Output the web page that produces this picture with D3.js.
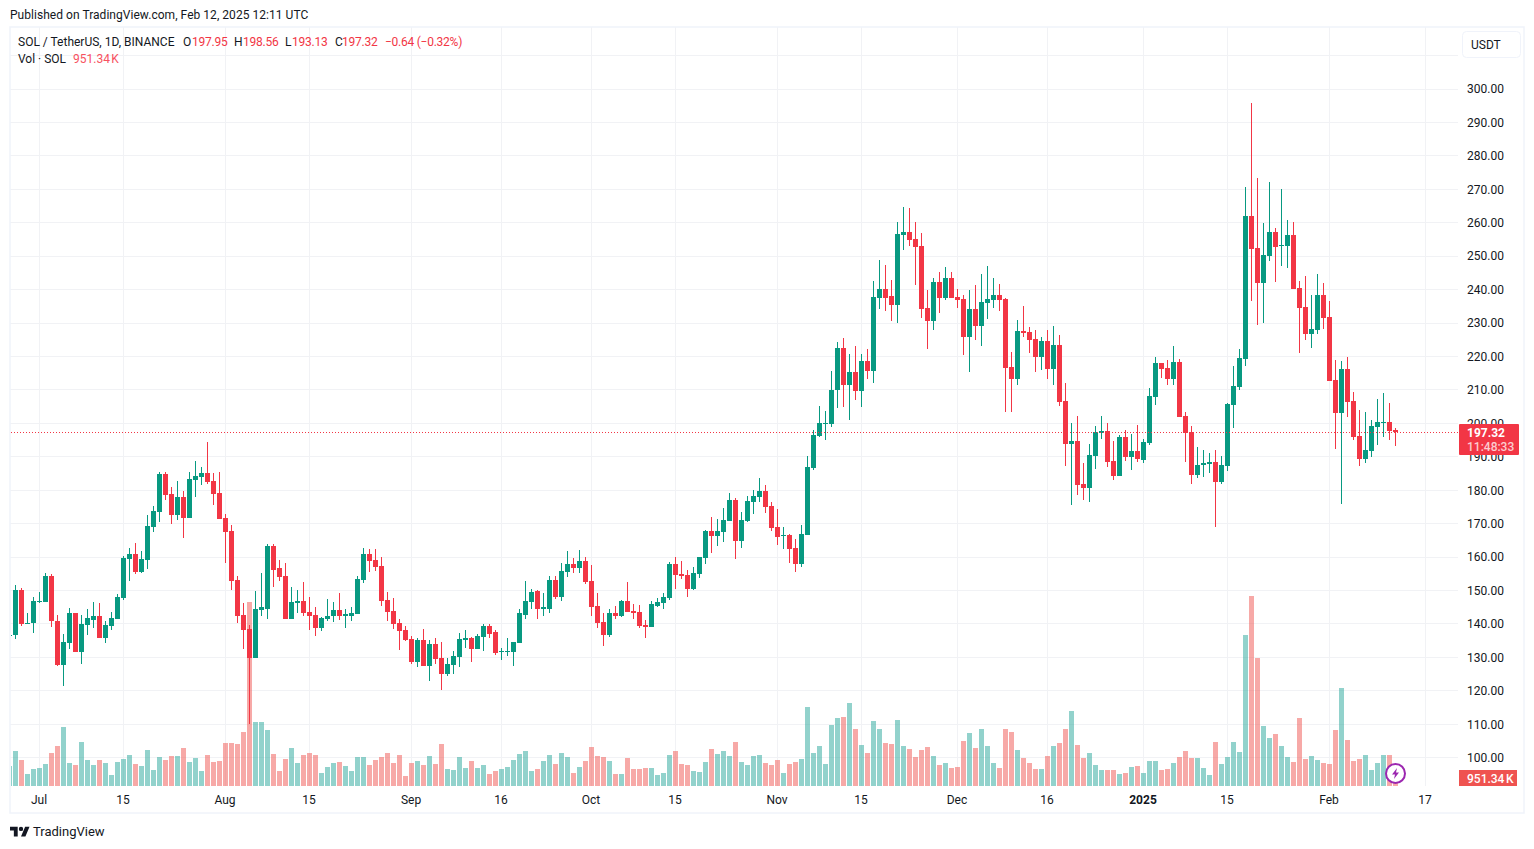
<!DOCTYPE html>
<html>
<head>
<meta charset="utf-8">
<script src="https://cdn.jsdelivr.net/npm/d3@7"></script>
<style>
  html, body { margin: 0; padding: 0; background: #fff; }
  svg { display: block; }
  text { font-family: Roboto, sans-serif; font-size: 12px; fill: #131722; }
</style>
</head>
<body>
<svg id="chart" width="1534" height="849"></svg>
<script>
// daily candles, Jun 26 2024 .. Feb 12 2025, one row per month
const firstDay = '2024-06-26', lastDay = '2025-02-12';

const open = [
  136.6,136.7,150.0,140.2,140.2,
  146.5,146.4,154.2,141.0,127.6,134.2,143.2,131.5,139.6,141.3,142.3,135.7,139.3,141.6,147.6,159.3,160.8,155.4,159.0,168.9,173.4,184.7,179.0,172.7,178.1,171.8,182.9,183.8,185.0,182.6,179.3,
  171.8,167.7,153.0,142.6,138.4,129.7,144.3,144.6,163.2,156.6,154.2,141.4,146.1,146.7,143.7,142.8,138.9,141.6,142.3,144.3,142.3,142.5,143.1,153.0,160.8,159.0,157.2,147.0,144.0,140.2,138.1,
  135.4,128.5,135.1,127.3,133.9,129.7,124.9,127.6,130.0,135.1,135.7,132.4,136.0,139.3,137.5,131.6,131.6,131.5,134.2,142.8,146.4,149.7,144.6,144.6,153.0,147.9,155.4,157.8,156.6,158.7,
  152.7,145.2,140.5,136.6,143.4,142.5,146.7,144.0,143.7,139.6,139.0,145.2,146.1,147.6,157.8,154.8,154.5,150.3,154.8,159.6,167.7,166.2,167.4,170.7,177.2,164.7,170.7,176.6,178.1,179.6,175.2,
  168.9,166.3,166.5,162.6,157.8,166.5,186.5,196.1,199.8,199.7,209.9,222.4,211.6,215.2,209.6,218.5,215.5,237.4,240.1,238.0,235.3,256.2,257.1,255.0,252.9,234.4,230.5,242.2,237.4,243.6,
  237.7,237.1,225.7,234.1,229.0,235.9,236.8,238.3,237.1,216.7,213.4,227.5,227.2,225.1,219.7,224.5,216.1,223.3,206.6,193.7,194.6,181.7,180.5,190.1,197.0,197.6,188.6,184.1,195.8,189.8,191.6,
  189.0,194.1,207.9,218.0,216.5,213.2,218.3,202.2,197.4,184.5,187.5,187.8,188.4,182.4,187.2,205.5,210.8,219.2,262.0,252.4,241.9,250.0,257.2,253.0,253.0,256.3,240.5,234.8,226.7,227.9,238.4,
  231.8,212.9,203.1,216.2,206.7,196.2,189.3,191.7,198.9,200.2,200.4,197.95
];
const high = [
  137.0,151.5,150.8,143.4,148.0,
  149.4,155.1,154.8,142.8,136.9,144.7,143.4,142.8,144.6,146.4,146.1,140.8,143.7,148.8,160.2,162.6,164.1,161.7,172.5,175.2,185.3,185.3,180.8,182.6,179.6,185.3,188.6,186.8,194.3,185.0,185.3,
  173.0,169.5,154.2,146.1,139.6,149.7,155.1,163.8,163.8,159.0,158.1,150.9,150.0,152.4,147.9,144.9,142.2,147.3,146.4,149.1,144.6,144.9,154.2,162.6,162.3,162.3,159.9,149.4,147.6,141.4,139.3,
  136.3,135.7,138.4,135.1,135.7,134.5,129.7,131.8,137.2,138.1,136.0,136.9,139.9,139.9,138.1,132.7,135.7,134.6,144.4,152.7,150.3,150.0,149.1,154.2,154.2,158.1,161.7,159.6,162.0,159.9,
  157.5,149.1,143.2,144.6,145.2,147.0,152.4,145.8,145.5,141.1,146.7,147.6,149.1,158.4,159.9,158.7,156.0,156.9,159.9,168.0,171.9,171.3,174.6,179.3,177.8,173.4,178.4,179.9,183.5,181.4,176.6,
  174.3,168.9,166.8,165.3,169.5,190.1,197.9,205.1,203.6,215.5,224.2,225.4,220.6,223.0,220.6,222.1,242.5,248.7,247.5,242.8,260.1,264.6,264.3,260.1,256.8,239.8,243.6,245.4,246.9,245.4,
  240.1,238.3,239.8,241.3,244.8,247.2,243.6,241.6,237.4,221.2,230.8,235.0,228.7,227.8,225.7,227.8,229.0,226.3,212.2,200.0,202.1,188.0,193.7,199.1,202.1,200.0,194.6,196.4,197.9,196.7,199.4,
  195.3,210.5,219.8,218.0,218.9,223.1,219.2,203.4,199.2,192.9,192.0,191.1,192.0,190.2,206.1,217.1,222.2,270.7,295.8,273.4,259.9,272.2,258.4,270.1,260.8,260.2,242.5,244.0,238.4,244.6,241.9,
  236.6,218.9,218.6,219.8,209.3,204.0,203.4,201.0,207.2,209.0,206.1,198.56
];
const low = [
  136.2,135.5,139.4,139.9,137.3,
  146.2,146.4,139.2,127.3,121.3,132.4,131.5,127.9,136.6,138.7,135.7,134.2,138.1,141.6,147.0,152.7,154.8,155.1,156.3,167.4,170.4,177.0,169.8,171.0,165.6,171.8,178.1,181.4,181.7,175.5,171.5,
  158.1,150.0,140.2,132.5,110.0,129.7,142.3,141.6,150.9,152.7,141.4,141.4,143.2,142.5,138.1,136.3,137.8,140.8,140.5,141.1,138.9,140.8,142.9,152.1,155.4,155.7,145.2,140.8,138.4,132.1,134.8,
  127.9,127.0,127.3,122.8,127.9,120.1,124.3,124.9,127.0,132.7,128.5,132.4,131.8,135.7,130.6,129.1,130.3,127.3,134.2,141.4,144.6,141.4,142.3,143.2,147.3,146.7,153.9,155.1,155.1,151.8,
  142.5,138.7,133.3,136.0,141.4,142.2,143.7,141.4,138.9,135.7,139.0,144.9,144.6,147.0,150.3,153.3,147.9,150.0,153.6,157.8,161.1,163.2,164.4,170.7,159.3,162.6,170.4,172.8,176.6,173.1,167.7,
  163.5,162.3,158.1,155.4,156.9,166.5,185.9,195.8,194.9,198.8,204.5,204.8,200.9,206.9,204.8,213.4,212.2,234.1,233.5,230.5,229.9,251.7,252.9,241.3,231.4,222.1,227.8,232.9,236.8,237.4,
  234.4,220.3,215.2,224.8,223.0,231.1,234.4,233.5,203.3,203.3,211.6,225.7,220.9,215.2,215.8,213.4,211.6,205.1,187.1,175.5,178.5,177.0,176.6,186.2,195.2,186.8,182.9,184.1,188.6,185.9,188.3,
  188.1,193.5,205.5,213.5,211.4,211.4,201.9,188.4,181.8,183.6,183.9,185.1,169.0,181.8,185.7,198.6,210.0,217.1,236.6,229.4,230.0,248.5,242.2,247.0,246.4,240.2,221.0,224.9,222.5,226.7,228.2,
  212.6,192.3,175.8,201.9,195.0,187.2,188.1,189.9,193.5,195.9,195.0,193.13
];
const close = [
  136.8,150.0,139.9,140.4,146.8,
  146.8,154.2,140.8,127.6,134.5,143.2,131.5,139.9,141.7,142.3,135.7,139.6,141.9,147.9,159.6,160.8,155.4,159.3,169.2,173.7,184.7,178.7,172.7,178.1,171.8,183.2,184.1,185.0,182.3,179.0,171.5,
  167.4,152.7,142.3,138.1,129.7,144.6,144.9,163.2,156.0,153.9,141.4,146.4,146.7,143.4,142.5,138.9,141.9,142.5,144.3,142.3,142.9,143.4,153.3,160.8,158.7,156.9,146.7,143.7,139.9,137.8,135.1,
  128.5,135.1,127.3,133.9,129.4,124.9,127.9,130.3,135.4,135.7,132.4,136.3,139.3,136.9,131.2,131.8,131.8,134.5,143.2,146.7,149.4,144.6,144.9,153.0,147.9,155.7,157.8,156.6,158.7,152.4,
  144.9,140.2,136.6,143.4,142.5,146.7,143.7,143.4,139.3,139.0,145.8,146.4,147.9,157.8,154.5,154.2,150.3,155.1,159.9,167.7,166.2,167.7,171.0,177.2,164.7,171.0,176.9,178.4,179.6,174.9,168.6,
  165.9,166.5,162.3,157.8,166.8,186.8,196.4,200.0,200.0,210.1,222.4,211.6,215.2,209.6,218.5,215.5,237.7,240.1,237.4,235.3,256.5,257.1,254.7,252.6,234.1,230.5,242.2,237.4,243.6,237.4,
  236.8,225.7,234.1,229.0,236.2,237.1,238.3,236.8,216.4,213.4,227.5,226.9,224.8,219.7,224.5,216.1,223.3,206.3,193.7,194.6,181.4,180.5,190.4,197.3,197.6,188.3,184.1,195.8,189.8,191.6,189.2,
  194.4,208.1,218.0,216.2,213.2,218.3,201.9,197.1,184.5,187.5,188.1,188.4,182.4,187.5,205.8,211.2,219.5,262.0,252.1,241.9,250.3,257.2,252.7,253.2,256.3,240.2,234.5,226.7,228.2,238.4,231.5,
  212.6,203.1,216.2,206.4,195.9,189.3,192.0,199.2,200.4,200.4,197.7,197.32
];
// volume in thousands of SOL
const volume = [
  1900,3325,2470,1140,1615,
  1710,2090,3135,3800,5605,2185,1995,4180,2470,1995,2470,2185,1045,2280,2565,2945,2090,1900,3420,1520,2755,2470,2850,2850,3610,2280,2660,1425,2945,2280,2375,
  4085,4085,3990,5130,17480,6080,6080,5320,3040,1425,2565,3610,2185,2945,3135,2945,1235,1805,2185,2280,1900,1425,2755,2755,1995,2470,2755,3135,2185,2945,950,
  2185,2375,1995,2850,2090,3990,1615,1520,2755,1710,2375,1710,1995,1140,1425,1615,1805,2470,3040,3325,1425,1615,2375,2945,2090,3135,2755,1235,1805,2375,
  3705,2850,2755,2375,1140,1140,2660,1615,1615,1710,1710,1045,1235,2945,3325,2090,1995,1425,1330,2280,3515,3040,3325,2850,4180,2280,1995,2850,2945,2185,1995,
  2470,1235,2090,2280,2565,7505,3135,3800,2090,5795,6460,6555,7885,5415,3895,3135,6175,5415,4085,3990,6270,3800,3515,2755,3420,3705,2850,1995,2185,1710,
  1805,4275,5035,3610,5415,3800,2185,1710,5415,5130,3420,2660,2185,1615,1615,2850,3800,4085,5415,7125,3895,2660,3135,1995,1520,1520,1520,1140,1235,1805,1900,
  1235,2375,2375,1520,1615,2185,2755,3325,2660,2660,1710,1045,4180,2090,2755,4180,3230,14345,18050,12160,5700,4560,4940,3800,2755,2280,6460,2565,2850,2470,2185,
  2090,5320,9310,4370,2375,2565,2945,1520,2185,2945,2945,951.34
];

const priceTicks = [100,110,120,130,140,150,160,170,180,190,200,210,220,230,240,250,260,270,280,290,300];
const priceGrid = priceTicks.concat([310]);
const timeTicks = ['2024-07-01','2024-07-15','2024-08-01','2024-08-15','2024-09-01','2024-09-16','2024-10-01','2024-10-15','2024-11-01','2024-11-15','2024-12-01','2024-12-16','2025-01-01','2025-01-15','2025-02-01','2025-02-17'];
const timeLabels = ['Jul','15','Aug','15','Sep','16','Oct','15','Nov','15','Dec','16','2025','15','Feb','17'];

const lastPrice = 197.32;
const upColor = '#089981', downColor = '#f23645';
const volUp = 'rgba(38,166,154,0.5)', volDown = 'rgba(239,83,80,0.5)';

const paneLeft = 10, paneRight = 1458, paneTop = 27, paneBottom = 786;

const days = d3.utcDay.range(new Date(firstDay), d3.utcDay.offset(new Date(lastDay), 1));
const candles = days.map((day, i) => ({
  day, o: open[i], h: high[i], l: low[i], c: close[i], v: volume[i], up: close[i] >= open[i]
}));

const x = d3.scaleUtc()
  .domain([new Date('2024-07-01'), new Date('2025-02-17')])
  .range([39.5, 1425.5]);
const y = d3.scaleLinear().domain([100, 300]).range([757.6, 89]);
const yVol = d3.scaleLinear().domain([0, 18050]).range([paneBottom, 596]);

const svg = d3.select('#chart');

svg.append('defs').append('clipPath').attr('id', 'pane')
  .append('rect')
  .attr('x', paneLeft + 1).attr('y', paneTop)
  .attr('width', paneRight - paneLeft - 1).attr('height', paneBottom - paneTop);

svg.append('text').attr('x', 10).attr('y', 19)
  .style('letter-spacing', '0.04px')
  .text('Published on TradingView.com, Feb 12, 2025 12:11 UTC');

// grid
const grid = svg.append('g').attr('stroke', '#f1f2f5').attr('shape-rendering', 'crispEdges');
grid.selectAll('line.h').data(priceGrid).enter().append('line')
  .attr('class', 'h')
  .attr('x1', paneLeft).attr('x2', paneRight)
  .attr('y1', (d) => Math.floor(y(d)) + 0.5).attr('y2', (d) => Math.floor(y(d)) + 0.5);
grid.selectAll('line.v').data(timeTicks).enter().append('line')
  .attr('class', 'v')
  .attr('y1', paneTop).attr('y2', paneBottom)
  .attr('x1', (d) => x(new Date(d))).attr('x2', (d) => x(new Date(d)));

const pane = svg.append('g').attr('clip-path', 'url(#pane)').attr('shape-rendering', 'crispEdges');

// volume sits under the candles
pane.selectAll('rect.vol').data(candles).enter().append('rect')
  .attr('class', 'vol')
  .attr('x', (d) => x(d.day) - 2.5)
  .attr('width', 5)
  .attr('y', (d) => Math.round(yVol(d.v)))
  .attr('height', (d) => paneBottom - Math.round(yVol(d.v)))
  .attr('fill', (d) => d.up ? volUp : volDown);

pane.selectAll('rect.wick').data(candles).enter().append('rect')
  .attr('class', 'wick')
  .attr('x', (d) => x(d.day) - 0.5)
  .attr('width', 1)
  .attr('y', (d) => Math.round(y(d.h)))
  .attr('height', (d) => Math.round(y(d.l)) - Math.round(y(d.h)))
  .attr('fill', (d) => d.up ? upColor : downColor);

pane.selectAll('rect.body').data(candles).enter().append('rect')
  .attr('class', 'body')
  .attr('x', (d) => x(d.day) - 2.5)
  .attr('width', 5)
  .attr('y', (d) => Math.round(y(Math.max(d.o, d.c))))
  .attr('height', (d) => Math.max(1, Math.round(y(Math.min(d.o, d.c))) - Math.round(y(Math.max(d.o, d.c)))))
  .attr('fill', (d) => d.up ? upColor : downColor);

// last price line
svg.append('line')
  .attr('x1', paneLeft + 1).attr('x2', 1459)
  .attr('y1', Math.floor(y(lastPrice)) + 0.5).attr('y2', Math.floor(y(lastPrice)) + 0.5)
  .attr('stroke', downColor)
  .attr('stroke-dasharray', '1 2');

// axes
const yAxis = d3.axisRight(y).tickValues(priceTicks).tickSize(0).tickPadding(0).tickFormat(d3.format('.2f'));
const gy = svg.append('g').attr('transform', 'translate(1467,0)').call(yAxis);
gy.select('.domain').remove();
gy.selectAll('text').style('font-size', '12px');

const xAxis = d3.axisBottom(x)
  .tickValues(timeTicks.map((d) => new Date(d)))
  .tickSize(0).tickPadding(0)
  .tickFormat((_, i) => timeLabels[i]);
const gx = svg.append('g').attr('transform', 'translate(-1,795)').call(xAxis);
gx.select('.domain').remove();
gx.selectAll('text').style('font-size', '12px')
  .style('font-weight', (d, i) => timeLabels[i] === '2025' ? 'bold' : 'normal');

svg.selectAll('.tick text').attr('fill', null);

// frame
svg.append('rect')
  .attr('x', 10).attr('y', 27).attr('width', 1514).attr('height', 786)
  .attr('fill', 'none').attr('stroke', '#f0f3fa').attr('stroke-width', 1.5);

// legend
const legend = svg.append('g');
const red = '#f23645';
const legendItems = [
  ['SOL / TetherUS, 1D, BINANCE', 18, 46, '#131722'],
  ['O', 183, 46, '#131722'], ['197.95', 192, 46, red],
  ['H', 234, 46, '#131722'], ['198.56', 243, 46, red],
  ['L', 285, 46, '#131722'], ['193.13', 292, 46, red],
  ['C', 335, 46, '#131722'], ['197.32', 342, 46, red],
  ['\u22120.64 (\u22120.32%)', 385, 46, red],
  ['Vol \u00b7 SOL', 18, 63, '#131722'], ['951.34\u202fK', 73, 63, '#f7525f']
];
legend.selectAll('text').data(legendItems).enter().append('text')
  .attr('x', (d) => d[1])
  .attr('y', (d) => d[2])
  .style('fill', (d) => d[3])
  .style('letter-spacing', (d) => d[3] === red ? '-0.25px' : null)
  .text((d) => d[0]);

// currency button
svg.append('rect')
  .attr('x', 1462.5).attr('y', 31.5).attr('width', 58).attr('height', 26).attr('rx', 4)
  .attr('fill', '#fff').attr('stroke', '#f0f3fa');
svg.append('text').attr('x', 1471).attr('y', 49).text('USDT');

// price tag
svg.append('rect').attr('x', 1459).attr('y', 424).attr('width', 60).attr('height', 31).attr('rx', 1).attr('fill', downColor);
svg.append('text').attr('x', 1467).attr('y', 437).style('fill', '#fff').style('font-weight', 'bold').text('197.32');
svg.append('text').attr('x', 1467).attr('y', 451).style('fill', 'rgba(255,255,255,0.75)').style('font-weight', 500).text('11:48:33');

// volume tag
svg.append('rect').attr('x', 1459).attr('y', 770).attr('width', 58).attr('height', 16).attr('fill', '#ef5350');
svg.append('text').attr('x', 1467).attr('y', 783).style('fill', '#fff').style('font-weight', 500).text('951.34\u202fK');

// lightning badge
const badge = svg.append('g').attr('transform', 'translate(1395.5,773.5)');
badge.append('circle').attr('r', 9.5).attr('fill', '#fff').attr('stroke', '#9c27b0').attr('stroke-width', 2);
badge.append('path').attr('d', 'M1.5 -5.5 L-3.5 1 L-0.5 1 L-1.5 5.5 L3.5 -1 L0.5 -1 Z').attr('fill', '#9c27b0');

// logo
svg.append('g').attr('transform', 'translate(10,824.5) scale(0.55)')
  .append('path')
  .attr('fill', '#131722')
  .attr('d', 'M14 22H7V11H0V4h14v18zM28 22h-8l7.5-18h8L28 22zM16 8a4 4 0 1 0 8 0a4 4 0 1 0 -8 0z');
svg.append('text').attr('x', 33).attr('y', 836).style('font-size', '13px').style('fill', '#131722').text('TradingView');
</script>
</body>
</html>
